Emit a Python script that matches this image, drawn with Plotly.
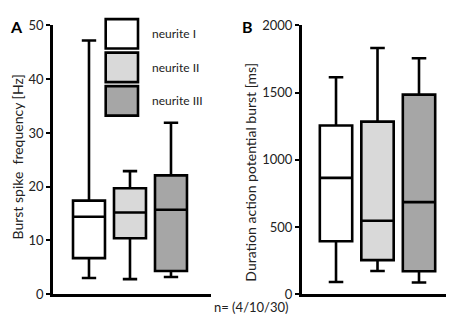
import plotly.graph_objects as go

# ---- data ----
neurites = ["neurite I", "neurite II", "neurite III"]
fills = ["#ffffff", "#d9d9d9", "#a6a6a6"]

# Panel A: burst spike frequency [Hz]
freq_low = [3.0, 2.8, 3.2]
freq_q1 = [6.7, 10.4, 4.3]
freq_med = [14.4, 15.2, 15.7]
freq_q3 = [17.4, 19.7, 22.1]
freq_high = [47.2, 22.9, 31.9]

# Panel B: duration action potential burst [ms]
dur_low = [90, 172, 87]
dur_q1 = [394, 253, 170]
dur_med = [866, 547, 685]
dur_q3 = [1256, 1284, 1485]
dur_high = [1615, 1832, 1756]

freq_ticks = [0, 10, 20, 30, 40, 50]
dur_ticks = [0, 500, 1000, 1500, 2000]

W, H = 454, 316
FONT = "Lato"

fig = go.Figure()

def add_boxes(low, q1, med, q3, high, xa, ya):
    for i, name in enumerate(neurites):
        fig.add_trace(go.Box(
            x=[name], q1=[q1[i]], median=[med[i]], q3=[q3[i]],
            lowerfence=[low[i]], upperfence=[high[i]],
            fillcolor=fills[i], line=dict(color="black", width=2.6),
            width=0.78, whiskerwidth=0.45, boxpoints=False,
            showlegend=False, hoverinfo="skip", xaxis=xa, yaxis=ya,
        ))

add_boxes(freq_low, freq_q1, freq_med, freq_q3, freq_high, "x", "y")
add_boxes(dur_low, dur_q1, dur_med, dur_q3, dur_high, "x2", "y2")

ydom = [1 - 293 / H, 1 - 10 / H]
axis_common = dict(showline=True, linecolor="black", linewidth=2.5,
                   showgrid=False, zeroline=False)
yaxis_common = dict(axis_common, ticks="outside", ticklen=4, tickwidth=2,
                    tickcolor="black", domain=ydom,
                    tickfont=dict(family=FONT, size=13, color="#222"))

fig.update_layout(
    width=W, height=H,
    margin=dict(l=0, r=0, t=0, b=0),
    paper_bgcolor="white", plot_bgcolor="white",
    font=dict(family=FONT, color="#222"),
    boxmode="overlay",
    xaxis=dict(axis_common, domain=[45 / W, 203 / W], range=[-0.878, 2.976],
               showticklabels=False, ticks="", anchor="y",
               categoryorder="array", categoryarray=neurites),
    yaxis=dict(yaxis_common, range=[0, 50], tickvals=freq_ticks, anchor="x"),
    xaxis2=dict(axis_common, domain=[293.7 / W, 452 / W], range=[-0.827, 2.988],
                showticklabels=False, ticks="", anchor="y2",
                categoryorder="array", categoryarray=neurites),
    yaxis2=dict(yaxis_common, range=[0, 2000], tickvals=dur_ticks, anchor="x2"),
)

annotations = [
    dict(text="Burst spike  frequency [Hz]", x=9 / W, y=1 - 149 / H, textangle=-90,
         font=dict(size=14)),
    dict(text="Duration action potential burst [ms]", x=243 / W, y=1 - 165 / H,
         textangle=-90, font=dict(size=14)),
    dict(text="<b>A</b>", x=8 / W, y=1 - 11 / H, font=dict(size=16, color="black")),
    dict(text="<b>B</b>", x=239 / W, y=1 - 11 / H, font=dict(size=16, color="black")),
    dict(text="n= (4/10/30)", x=243 / W, y=1 - 307 / H, font=dict(size=13)),
]

# legend drawn as shapes + labels
shapes = []
for i, name in enumerate(neurites):
    top = 3.3 + i * 35.3
    bot = top + 31
    shapes.append(dict(type="rect", xref="paper", yref="paper",
                       x0=97.7 / W, x1=130 / W, y0=1 - bot / H, y1=1 - top / H,
                       fillcolor=fills[i], line=dict(color="black", width=2.6)))
    annotations.append(dict(text=name, x=141.7 / W, y=1 - (top + 15.5) / H,
                            xanchor="left", font=dict(size=12)))

for a in annotations:
    a.setdefault("xref", "paper")
    a.setdefault("yref", "paper")
    a.setdefault("showarrow", False)
    a.setdefault("xanchor", "center")
    a.setdefault("yanchor", "middle")

fig.update_layout(annotations=annotations, shapes=shapes)
fig.write_html("out.html")
